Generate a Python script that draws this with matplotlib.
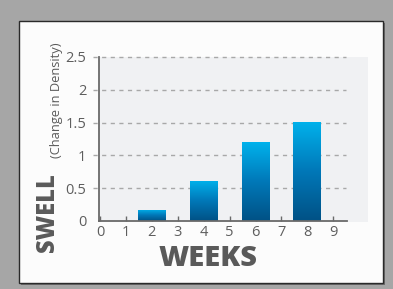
import matplotlib
matplotlib.use("Agg")
import matplotlib.pyplot as plt
import numpy as np
from matplotlib.patches import Rectangle
from matplotlib.colors import LinearSegmentedColormap

weeks = [2, 4, 6, 8]
swell = [0.17, 0.61, 1.2, 1.51]
xticks = list(range(10))
yticks = [0, 0.5, 1, 1.5, 2, 2.5]
ytick_labels = ["0", "0.5", "1", "1.5", "2", "2.5"]

W, H = 393, 289
fig = plt.figure(figsize=(W / 100, H / 100), dpi=100)
fig.patch.set_facecolor("#a6a6a6")

def px(x0, y0, x1, y1):
    # pixel box (top-left origin) -> figure fraction rect
    return (x0 / W, 1 - y1 / H, (x1 - x0) / W, (y1 - y0) / H)

FONT = "Open Sans"
txtc = "#5e5e5e"

# panel shadow and white panel
l, b, w, h = px(21, 23, 384.5, 284.5)
fig.add_artist(Rectangle((l, b), w, h, transform=fig.transFigure, facecolor="#6c6c6c", edgecolor="none", zorder=0))
l, b, w, h = px(19, 21, 382.5, 282.5)
fig.add_artist(Rectangle((l, b), w, h, transform=fig.transFigure, facecolor="#fcfcfc", edgecolor="#2a2a2a", lw=1.0, zorder=0.5))
# light gray plot background
l, b, w, h = px(99, 57, 368, 222)
fig.add_artist(Rectangle((l, b), w, h, transform=fig.transFigure, facecolor="#f0f1f3", edgecolor="none", zorder=0.8))

ax = fig.add_axes(px(99, 57, 347, 221))
ax.set_facecolor("none")
ax.set_zorder(2)
ax.set_xlim(-1 / 25.9, 9.53)
ax.set_ylim(0, 2.5)

# dashed gridlines extending left past the spine
for yv in yticks[1:]:
    ax.axhline(yv, xmin=-6 / 248, xmax=(346 - 99) / 248, color="#a8a8a8", lw=1.0,
               dashes=(3, 3.2), clip_on=False, zorder=1)

cmap = LinearSegmentedColormap.from_list("b", ["#005185", "#0078b8", "#00b2ec"])
bars = ax.bar(weeks, swell, width=1.08, color="none", edgecolor="none", zorder=3)
grad = np.linspace(0, 1, 256).reshape(-1, 1)
for bar in bars:
    x0, y0 = bar.get_x(), bar.get_y()
    bw, bh = bar.get_width(), bar.get_height()
    im = ax.imshow(grad, extent=[x0, x0 + bw, y0, y0 + bh], origin="lower",
                   cmap=cmap, aspect="auto", zorder=3)
    im.set_clip_path(bar)
ax.set_xlim(-1 / 25.9, 9.53)
ax.set_ylim(0, 2.5)

for s in ["top", "right"]:
    ax.spines[s].set_visible(False)
for s in ["left", "bottom"]:
    ax.spines[s].set_color("#6a6a6a")
    ax.spines[s].set_linewidth(1.3)
    ax.spines[s].set_zorder(4)

ax.set_xticks(xticks)
ax.set_xticklabels([str(t) for t in xticks], fontfamily=FONT, fontsize=10.5, color=txtc)
ax.tick_params(axis="x", direction="in", length=3.5, width=1.0, color="#6a6a6a", pad=3)
ax.set_yticks(yticks)
ax.set_yticklabels(ytick_labels, fontfamily=FONT, fontsize=10.5, color=txtc)
ax.tick_params(axis="y", length=0, pad=9)

fig.text(208.5 / W, 1 - 258 / H, "WEEKS", fontfamily=FONT, fontweight="heavy", fontsize=21,
         color="#5a5a5a", ha="center", va="center")
fig.text(47.5 / W, 1 - 212.5 / H, "SWELL", fontfamily=FONT, fontweight="heavy", fontsize=17,
         color="#5a5a5a", ha="center", va="center", rotation=90)
fig.text(56.5 / W, 1 - 100 / H, "(Change in Density)", fontfamily=FONT, fontsize=9.3,
         color="#5a5a5a", ha="center", va="center", rotation=90)

fig.savefig("out.png", dpi=100, facecolor=fig.get_facecolor())
